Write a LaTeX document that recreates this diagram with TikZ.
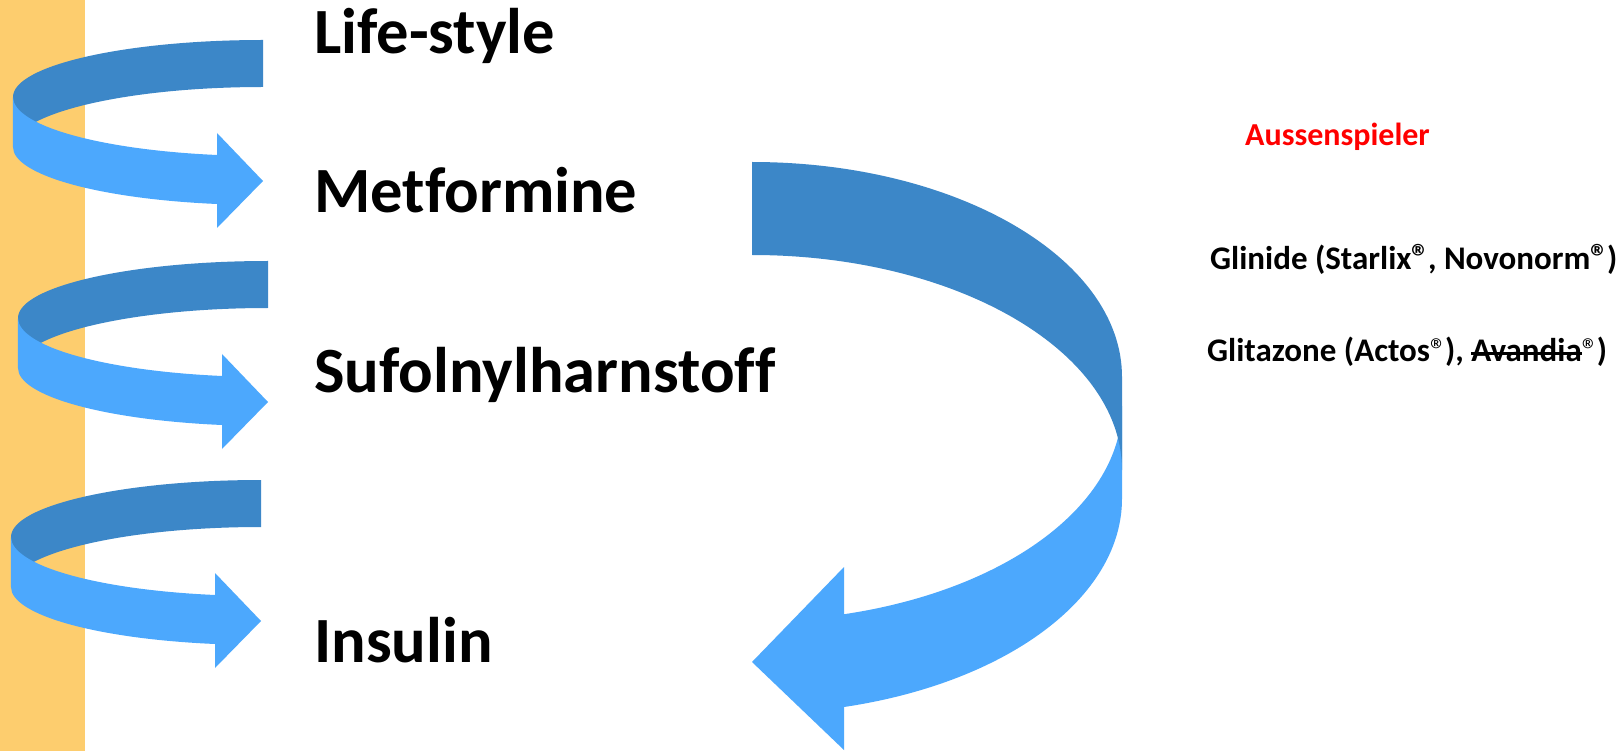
\documentclass[tikz,border=0pt]{standalone}
\usepackage{fontspec}
\setmainfont{Carlito}[Ligatures=NoCommon]
\definecolor{bandyellow}{HTML}{FDCD6E}
\definecolor{ribdark}{HTML}{3C87C8}
\definecolor{riblight}{HTML}{4CA8FD}
\definecolor{outred}{HTML}{FF0000}
\newsavebox\strkbox
\newcommand\strkword[1]{\sbox\strkbox{#1}\rlap{\usebox\strkbox}\rule[0.22em]{\wd\strkbox}{0.07em}}
\newcommand\regmark{{\fontsize{36}{36}\selectfont ®}\kern-0.05em}
\newcommand\regmarklight{{\mdseries ®}\kern-0.05em}
\tikzset{
  bigtext/.style={anchor=base west, inner sep=0pt, font=\fontsize{64.5}{70}\selectfont\bfseries},
  sidetext/.style={anchor=base west, inner sep=0pt, font=\fontsize{33}{38}\selectfont\bfseries},
  redtext/.style={anchor=base west, inner sep=0pt, text=outred, font=\fontsize{32}{38}\selectfont\bfseries}
}
\newcommand\ribarrow[2]{%
  \begin{scope}[shift={(#1,#2)}]
    \fill[ribdark] (250,-57) arc[start angle=270,end angle=180,x radius=250,y radius=57]
      -- (0,50) arc[start angle=180,end angle=270,x radius=250,y radius=60] -- cycle;
    \fill[riblight] (0,0) arc[start angle=180,end angle=100.6,x radius=250,y radius=59]
      -- (204,36) -- (250,84) -- (204,131) -- (204,107)
      arc[start angle=100.6,end angle=180,x radius=250,y radius=58] -- cycle;
  \end{scope}}
\begin{document}
\begin{tikzpicture}[x=1pt,y=-1pt]
\useasboundingbox (0,0) rectangle (1623,751);
\fill[white] (0,0) rectangle (1623,751);
% yellow band
\fill[bandyellow] (0,0) rectangle (85,751);
% small ribbon arrows
\ribarrow{13}{97}
\ribarrow{18}{318}
\ribarrow{11}{537}
% big arrow: light front band first, dark back band on top
\fill[riblight] (1122,406) arc[start angle=0,end angle=75.6,x radius=370,y radius=215]
  -- (844,567) -- (752,662) -- (844,750) -- (844,707)
  arc[start angle=75.6,end angle=0,x radius=370,y radius=215] -- cycle;
\fill[ribdark] (752,162) arc[start angle=270,end angle=360,x radius=370,y radius=215]
  -- (1122,470) arc[start angle=0,end angle=-90,x radius=370,y radius=215] -- cycle;
% texts
\node[bigtext] (life) at (314,54) {Life-style};
\node[bigtext] (metf) at (314,213) {Metformine};
\node[bigtext] (sufo) at (314,392) {Sufolnylharnstoff};
\node[bigtext] (insu) at (314,662) {Insulin};
\node[redtext] (aussen) at (1245,146) {Aussenspieler};
\node[sidetext] (glinide) at (1210,270) {Glinide (Starlix\regmark, Novonorm\regmark)};
\node[sidetext] (glitaz) at (1207,362) {Glitazone (Actos\regmarklight), \strkword{Avandia}\regmarklight)};
\end{tikzpicture}
\end{document}
